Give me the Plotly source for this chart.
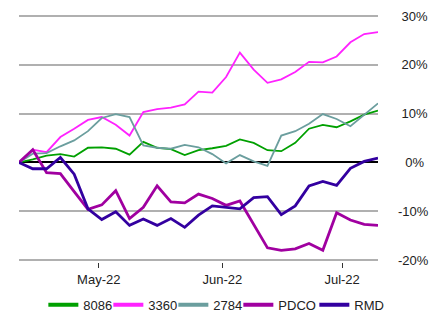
import plotly.graph_objects as go

dates = [
    "2022-04-11 00:00", "2022-04-14 11:00", "2022-04-17 22:00", "2022-04-21 09:00",
    "2022-04-24 20:00", "2022-04-28 07:00", "2022-05-01 18:00", "2022-05-05 06:00",
    "2022-05-08 17:00", "2022-05-12 04:00", "2022-05-15 15:00", "2022-05-19 02:00",
    "2022-05-22 13:00", "2022-05-26 00:00", "2022-05-29 11:00", "2022-06-01 22:00",
    "2022-06-05 09:00", "2022-06-08 20:00", "2022-06-12 07:00", "2022-06-15 18:00",
    "2022-06-19 06:00", "2022-06-22 17:00", "2022-06-26 04:00", "2022-06-29 15:00",
    "2022-07-03 02:00", "2022-07-06 13:00", "2022-07-10 00:00",
]

s_8086 = [0, 0.6, 1.4, 1.7, 1.2, 3.0, 3.1, 2.8, 1.6, 4.2, 3.0, 2.7, 1.5, 2.5,
          2.9, 3.4, 4.7, 4.0, 2.5, 2.3, 4.0, 6.9, 7.7, 7.2, 8.4, 9.8, 10.6]
s_3360 = [0, 2.6, 2.1, 5.2, 6.9, 8.7, 9.3, 7.7, 5.5, 10.3, 10.9, 11.2, 11.9, 14.5,
          14.3, 17.5, 22.5, 19.0, 16.3, 17.0, 18.5, 20.6, 20.5, 21.7, 24.6, 26.3, 26.7]
s_2784 = [0, 1.8, 1.9, 3.3, 4.5, 6.4, 9.1, 9.9, 9.3, 3.5, 3.0, 2.8, 3.6, 3.1,
          1.7, -0.2, 1.5, 0.2, -0.7, 5.5, 6.4, 7.9, 9.9, 8.9, 7.4, 9.8, 12.1]
s_pdco = [0, 2.6, -2.1, -2.3, -6.0, -9.6, -8.7, -5.8, -11.5, -9.2, -4.8, -8.1, -8.3, -6.5,
          -7.4, -8.8, -7.9, -12.7, -17.5, -18.0, -17.7, -16.6, -18.0, -10.3, -11.8, -12.7, -12.9]
s_rmd = [0, -1.3, -1.3, 1.0, -2.4, -9.5, -11.7, -10.1, -12.9, -11.6, -12.9, -11.5, -13.3, -10.8,
         -8.9, -9.2, -9.5, -7.2, -7.0, -10.7, -8.9, -4.8, -3.9, -4.7, -1.2, 0.2, 0.9]

series_names = ["8086", "3360", "2784", "PDCO", "RMD"]
series_values = [s_8086, s_3360, s_2784, s_pdco, s_rmd]
series_colors = ["#00a000", "#ff22ff", "#6b9e9e", "#a000a0", "#3300a0"]
series_widths = [1.8, 1.8, 1.8, 2.8, 2.8]
legend_widths = [20, 20, 20, 31, 30]

y_tickvals = [-20, -10, 0, 10, 20, 30]
y_ticktext = ["-20%", "-10%", "\u00a0\u00a00%", "\u00a010%", "\u00a020%", "\u00a030%"]

fig = go.Figure()
for name, vals, col, w in zip(series_names, series_values, series_colors, series_widths):
    fig.add_trace(go.Scatter(x=dates, y=vals, mode="lines", name=name,
                             line=dict(color=col, width=w), showlegend=False,
                             hoverinfo="skip"))
for name, col, lw in zip(series_names, series_colors, legend_widths):
    fig.add_trace(go.Scatter(x=[None], y=[None], mode="lines", name=name,
                             line=dict(color=col, width=4), showlegend=True,
                             legendwidth=lw))

font = dict(family="Arial, Liberation Sans, sans-serif", size=13, color="#222222")

fig.update_layout(
    width=447, height=313,
    margin=dict(l=19, r=69, t=14, b=51, autoexpand=False),
    paper_bgcolor="white", plot_bgcolor="white",
    font=font,
    showlegend=True,
    legend=dict(orientation="h", xref="container", yref="container",
                x=0.484, xanchor="center", y=0.026, yanchor="middle",
                font=font, bgcolor="rgba(0,0,0,0)", tracegroupgap=0),
    xaxis=dict(
        type="date",
        range=[dates[0], dates[-1]],
        tickformat="%b-%y", dtick="M1", tick0="2022-05-01",
        ticks="outside", ticklen=5, tickwidth=1, tickcolor="#333333",
        showgrid=False, showline=False, zeroline=False,
        tickfont=font,
    ),
    yaxis=dict(
        side="right",
        range=[-20.4, 30.4],
        tickvals=y_tickvals, ticktext=y_ticktext,
        showgrid=True, gridcolor="#b0b0b0", gridwidth=1.5,
        zeroline=True, zerolinecolor="#000000", zerolinewidth=1.5,
        showline=False, ticks="",
        ticklabelstandoff=19,
        tickfont=font,
    ),
)

fig.write_html("out.html",
               config={"displayModeBar": False},
               post_script="document.body.style.margin='0';document.body.style.overflow='hidden';")
